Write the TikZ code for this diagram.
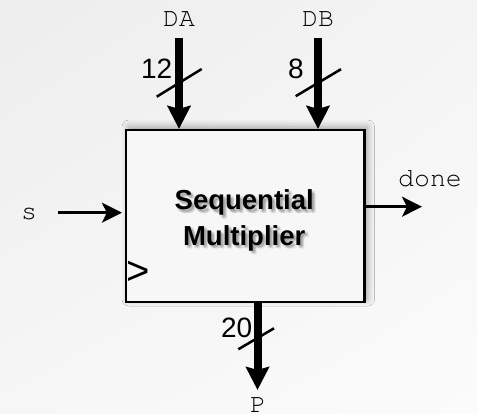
\documentclass[tikz,border=0pt]{standalone}
\usepackage{fontspec}
\setmainfont{Liberation Sans}
\setmonofont{TeX Gyre Cursor}
\usetikzlibrary{arrows.meta,shadows.blur,shadings}

\definecolor{bgTL}{RGB}{237,237,237}
\definecolor{bgBR}{RGB}{251,251,251}
\definecolor{bgTR}{RGB}{244,244,244}
\definecolor{bgBL}{RGB}{246,246,246}
\definecolor{boxfill}{RGB}{247,247,247}

\tikzset{
  sig/.style={font=\ttfamily\fontsize{26.5}{26.5}\selectfont, inner sep=0pt, anchor=base},
  buswidth/.style={font=\fontsize{28}{28}\selectfont, inner sep=0pt, anchor=base},
  bus/.style={line width=8pt, -{Stealth[length=23pt,width=23pt,inset=3pt]}},
  wire/.style={line width=2.5pt, -{Stealth[length=20pt,width=20pt,inset=5pt]}},
  slash/.style={line width=2.5pt},
  blockbox/.style={draw, line width=2.2pt, fill=boxfill, minimum width=238.5pt,
    minimum height=172pt, inner sep=0pt,
    blur shadow={shadow xshift=3pt, shadow yshift=3pt, shadow blur radius=7pt, shadow opacity=35}},
  title/.style={font=\bfseries\fontsize{27.5}{35.7}\selectfont, align=center, inner sep=0pt}
}

\begin{document}
\begin{tikzpicture}[x=1pt, y=-1pt]
  % background
  \shade[upper left=bgTL, upper right=bgTR, lower left=bgBL, lower right=bgBR]
    (0,0) rectangle (477,414);
  \useasboundingbox (0,0) rectangle (477,414);

  % the multiplier block
  \node[blockbox] (box) at (245.25,216) {};

  % title with a soft text shadow
  \foreach \dx/\dy in {1.5/1.5, 2.5/2.5, 3.5/3.5, 2/3.5, 3.5/2, 1/3, 3/1, 4/4}{
    \node[title, text=black, opacity=0.05] at (244.2+\dx,220.5+\dy) {Sequential\\Multiplier};
  }
  \node[title] (title) at (244.2,220.5) {Sequential\\Multiplier};

  % clock mark
  \node[font=\fontsize{40}{40}\selectfont, inner sep=0pt] (clk) at (138.5,272.5) {>};

  % operand A
  \node[sig] (DA) at (179,26.7) {DA};
  \coordinate (daTop) at (179,38);
  \draw[bus] (daTop) -- (daTop |- box.north);
  \coordinate (daS1) at (156.7,96.7);
  \coordinate (daS2) at (201.7,69);
  \draw[slash] (daS1) -- (daS2);
  \node[buswidth] (wA) at (156.7,79) {12};

  % operand B
  \node[sig] (DB) at (318,26.7) {DB};
  \coordinate (dbTop) at (318,38);
  \draw[bus] (dbTop) -- (dbTop |- box.north);
  \coordinate (dbS1) at (295.7,96.2);
  \coordinate (dbS2) at (341,69.2);
  \draw[slash] (dbS1) -- (dbS2);
  \node[buswidth] (wB) at (296,79) {8};

  % start input
  \node[sig] (s) at (29,220) {s};
  \coordinate (sStart) at (58,212.7);
  \draw[wire, shorten >=3pt] (sStart) -- (sStart -| box.west);

  % done output
  \node[sig] (done) at (430,186.7) {done};
  \coordinate (doneEnd) at (422,206.7);
  \draw[wire] (doneEnd -| box.east) -- (doneEnd);

  % product output
  \coordinate (pTop) at (257.5,302);
  \coordinate (pEnd) at (257.5,390);
  \draw[bus] (pTop) -- (pEnd);
  \coordinate (pS1) at (238.3,349.3);
  \coordinate (pS2) at (274,328.3);
  \draw[slash] (pS1) -- (pS2);
  \node[buswidth] (wP) at (236.7,337.3) {20};
  \node[sig] (P) at (258,412.5) {P};
\end{tikzpicture}
\end{document}
